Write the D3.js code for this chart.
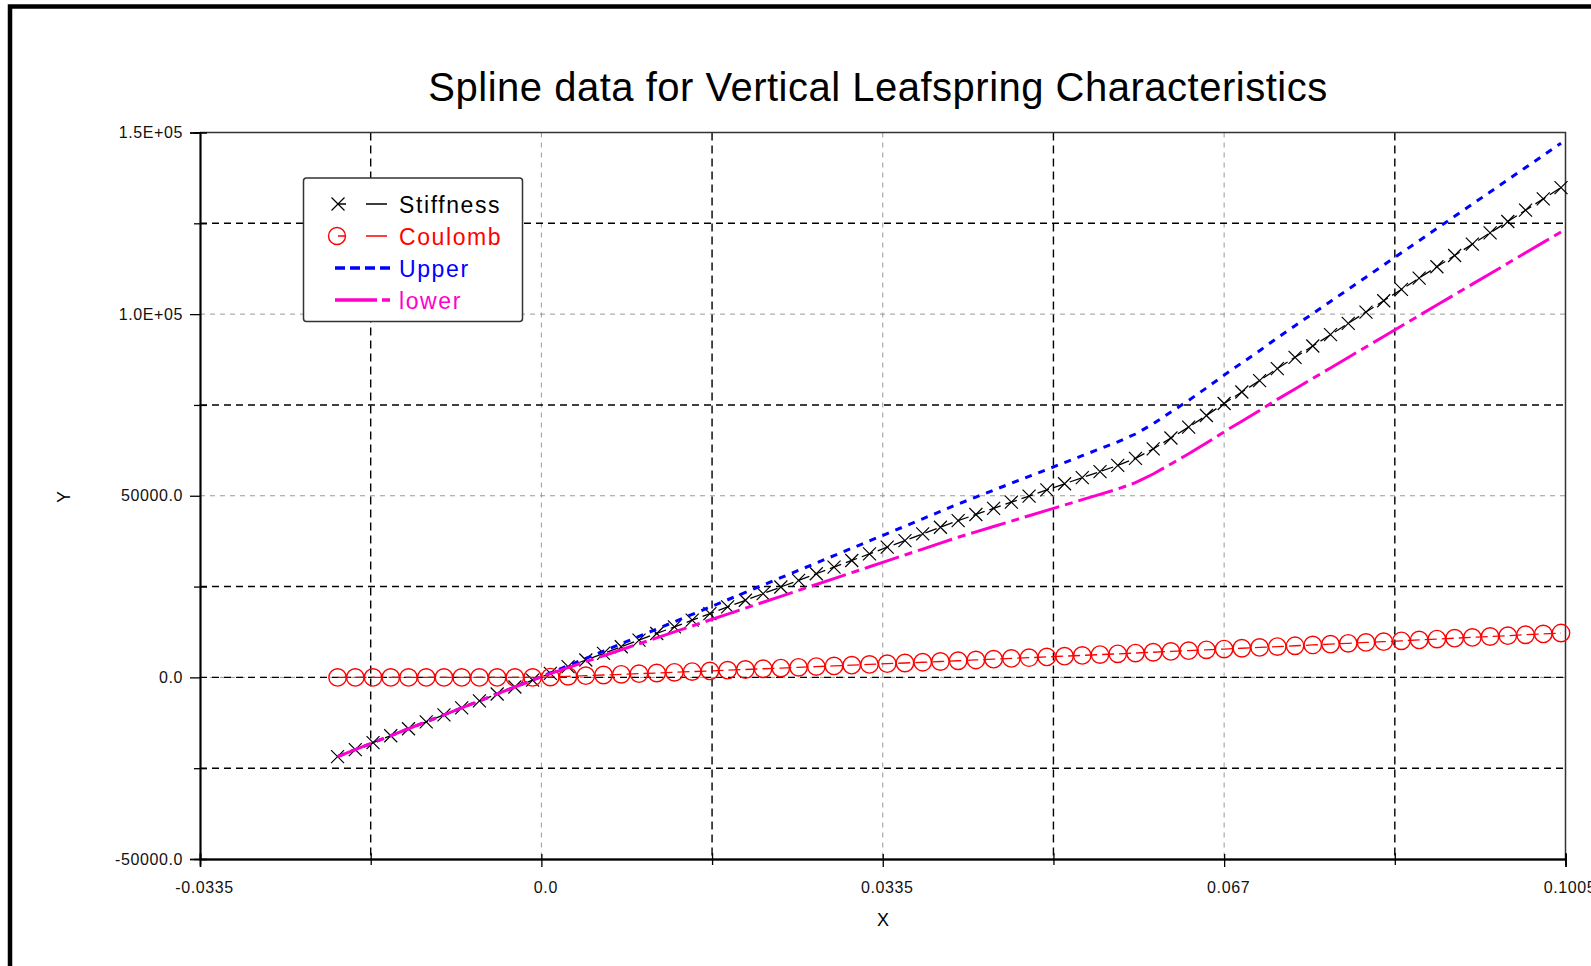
<!DOCTYPE html>
<html>
<head>
<meta charset="utf-8">
<script src="https://cdn.jsdelivr.net/npm/d3@7"></script>
<style>
  body { margin: 0; background: #fff; }
  svg { display: block; font-family: "Liberation Sans", Arial, sans-serif; }
</style>
</head>
<body>
<script>
// x positions of the spline points
const xValues = [-0.02, -0.01826, -0.01652, -0.01478, -0.01304, -0.0113, -0.00956, -0.00782, -0.00608, -0.00434,
  -0.0026, -0.00086, 0.00088, 0.00262, 0.00436, 0.0061, 0.00784, 0.00958, 0.01132, 0.01306,
  0.0148, 0.01654, 0.01828, 0.02002, 0.02176, 0.0235, 0.02524, 0.02698, 0.02872, 0.03046,
  0.0322, 0.03394, 0.03568, 0.03742, 0.03916, 0.0409, 0.04264, 0.04438, 0.04612, 0.04786,
  0.0496, 0.05134, 0.05308, 0.05482, 0.05656, 0.0583, 0.06004, 0.06178, 0.06352, 0.06526,
  0.067, 0.06874, 0.07048, 0.07222, 0.07396, 0.0757, 0.07744, 0.07918, 0.08092, 0.08266,
  0.0844, 0.08614, 0.08788, 0.08962, 0.09136, 0.0931, 0.09484, 0.09658, 0.09832, 0.10006];

const stiffness = [-21800, -19890, -17970, -16060, -14140, -12230, -10320, -8400, -6490, -4570,
  -2660, -750, 1120, 2950, 4780, 6600, 8430, 10260, 12090, 13910,
  15740, 17570, 19390, 21220, 23050, 24880, 26700, 28530, 30360, 32180,
  34010, 35840, 37660, 39490, 41320, 43150, 44850, 46540, 48230, 49910,
  51600, 53290, 54980, 56660, 58350, 60300, 62900, 65900, 68900, 72100,
  75400, 78550, 81700, 85000, 88110, 91230, 94340, 97460, 100570, 103690,
  106800, 109920, 113030, 116150, 119260, 122380, 125490, 128610, 131720, 134840];

const coulomb = [0, 0, 0, 0, 0, 0, 0, 0, 0, 0,
  0, 0, 90, 280, 460, 650, 830, 1020, 1210, 1400,
  1590, 1780, 1980, 2170, 2370, 2560, 2760, 2960, 3160, 3360,
  3560, 3760, 3960, 4170, 4370, 4580, 4790, 5000, 5210, 5410,
  5630, 5840, 6050, 6270, 6480, 6700, 6920, 7140, 7360, 7580,
  7800, 8020, 8240, 8470, 8700, 8920, 9150, 9380, 9610, 9840,
  10070, 10310, 10540, 10780, 11010, 11250, 11490, 11730, 11970, 12210];

const upper = [-21800, -19890, -17970, -16060, -14140, -12230, -10320, -8400, -6490, -4570,
  -2660, -750, 1210, 3230, 5240, 7250, 9260, 11280, 13300, 15310,
  17330, 19350, 21370, 23390, 25420, 27440, 29460, 31490, 33520, 35540,
  37570, 39600, 41620, 43660, 45690, 47730, 49640, 51540, 53440, 55320,
  57230, 59130, 61030, 62930, 64830, 67000, 69820, 73040, 76260, 79680,
  83200, 86570, 89940, 93470, 96810, 100150, 103490, 106840, 110180, 113530,
  116870, 120230, 123570, 126930, 130270, 133630, 136980, 140340, 143690, 147050];

const lower = [-21800, -19890, -17970, -16060, -14140, -12230, -10320, -8400, -6490, -4570,
  -2660, -750, 1030, 2670, 4320, 5950, 7600, 9240, 10880, 12510,
  14150, 15790, 17410, 19050, 20680, 22320, 23940, 25570, 27200, 28820,
  30450, 32080, 33700, 35320, 36950, 38570, 40060, 41540, 43020, 44500,
  45970, 47450, 48930, 50390, 51870, 53600, 55980, 58760, 61540, 64520,
  67600, 70530, 73460, 76530, 79410, 82310, 85190, 88080, 90960, 93850,
  96730, 99610, 102490, 105370, 108250, 111130, 114000, 116880, 119750, 122630];

const xMajorTicks = [-0.0335, 0.0, 0.0335, 0.067, 0.1005];
const xTickLabels = ["-0.0335", "0.0", "0.0335", "0.067", "0.1005"];
const xMinorTicks = [-0.01675, 0.01675, 0.05025, 0.08375];
const yMajorTicks = [-50000, 0, 50000, 100000, 150000];
const yTickLabels = ["-50000.0", "0.0", "50000.0", "1.0E+05", "1.5E+05"];
const yMinorTicks = [-25000, 25000, 75000, 125000];

const seriesNames = ["Stiffness", "Coulomb", "Upper", "lower"];

const width = 1591, height = 966;
const plotLeft = 200, plotRight = 1565.5, plotTop = 132.5, plotBottom = 859;

const svg = d3.select("body")
    .append("svg")
    .attr("width", width)
    .attr("height", height);

svg.append("rect")
    .attr("width", width).attr("height", height)
    .attr("fill", "white");

// outer frame (runs off the right and bottom of the window)
svg.append("rect")
    .attr("x", 10).attr("y", 6.5)
    .attr("width", 1700).attr("height", 1100)
    .attr("fill", "none")
    .attr("stroke", "black")
    .attr("stroke-width", 4.5);

const x = d3.scaleLinear().domain([-0.0335, 0.1005]).range([plotLeft, plotRight]);
const y = d3.scaleLinear().domain([-50000, 150000]).range([plotBottom, plotTop]);

svg.append("text")
    .attr("x", 878).attr("y", 101)
    .attr("text-anchor", "middle")
    .attr("font-size", 40)
    .attr("letter-spacing", 0.5)
    .text("Spline data for Vertical Leafspring Characteristics");

// grid
const grid = svg.append("g");
grid.selectAll("line.gy")
    .data(yMajorTicks.filter(d => d > -50000 && d < 150000))
    .join("line")
    .attr("x1", plotLeft).attr("x2", plotRight)
    .attr("y1", d => y(d)).attr("y2", d => y(d))
    .attr("stroke", "#999").attr("stroke-dasharray", "5,5");
grid.selectAll("line.gx")
    .data(xMajorTicks.filter(d => d > -0.0335 && d < 0.1005))
    .join("line")
    .attr("y1", plotTop).attr("y2", plotBottom)
    .attr("x1", d => x(d)).attr("x2", d => x(d))
    .attr("stroke", "#999").attr("stroke-dasharray", "5,5");
grid.selectAll("line.my")
    .data(yMinorTicks.concat([0]))
    .join("line")
    .attr("x1", plotLeft).attr("x2", plotRight)
    .attr("y1", d => y(d)).attr("y2", d => y(d))
    .attr("stroke", "black").attr("stroke-width", 1.4).attr("stroke-dasharray", "7,5");
grid.selectAll("line.mx")
    .data(xMinorTicks)
    .join("line")
    .attr("y1", plotTop).attr("y2", plotBottom)
    .attr("x1", d => x(d)).attr("x2", d => x(d))
    .attr("stroke", "black").attr("stroke-width", 1.4).attr("stroke-dasharray", "8,5");

// frame top/right
svg.append("path")
    .attr("d", `M${plotLeft},${plotTop}H${plotRight}V${plotBottom}`)
    .attr("fill", "none").attr("stroke", "#333").attr("stroke-width", 1.5);

// axes
const yAxis = svg.append("g")
    .attr("transform", `translate(${plotLeft},0)`)
    .call(d3.axisLeft(y).tickValues(yMajorTicks).tickSize(10)
        .tickFormat((d, i) => yTickLabels[i]));
svg.append("g").attr("transform", `translate(${plotLeft},0)`)
    .call(d3.axisLeft(y).tickValues(yMinorTicks).tickSize(6).tickFormat(""));
svg.append("g").attr("transform", `translate(${plotLeft},0)`)
    .call(d3.axisRight(y).tickValues(yMinorTicks).tickSize(7).tickFormat(""));

const xAxis = svg.append("g")
    .attr("transform", `translate(0,${plotBottom})`)
    .call(d3.axisBottom(x).tickValues(xMajorTicks).tickSize(8)
        .tickFormat((d, i) => xTickLabels[i]));
svg.append("g").attr("transform", `translate(0,${plotBottom})`)
    .call(d3.axisTop(x).tickValues(xMajorTicks).tickSize(5).tickFormat(""));
svg.append("g").attr("transform", `translate(0,${plotBottom})`)
    .call(d3.axisBottom(x).tickValues(xMinorTicks).tickSize(6).tickFormat(""));
svg.append("g").attr("transform", `translate(0,${plotBottom})`)
    .call(d3.axisTop(x).tickValues(xMinorTicks).tickSize(6).tickFormat(""));

svg.selectAll(".domain").attr("stroke", "black").attr("stroke-width", 1.5);
svg.selectAll(".tick line").attr("stroke", "black").attr("stroke-width", 1.3);
svg.selectAll(".tick text")
    .attr("font-family", "Liberation Sans, Arial, sans-serif")
    .attr("font-size", 16)
    .attr("letter-spacing", 0.6)
    .attr("fill", "#111");
yAxis.selectAll(".tick text").attr("x", -17);
xAxis.selectAll(".tick text").attr("y", 23).attr("dx", 4);

svg.append("text")
    .attr("x", 883).attr("y", 926)
    .attr("text-anchor", "middle")
    .attr("font-size", 18)
    .text("X");
svg.append("text")
    .attr("transform", "translate(70,497) rotate(-90)")
    .attr("text-anchor", "middle")
    .attr("font-size", 18)
    .text("Y");

// series
const pts = vals => xValues.map((xv, i) => [xv, vals[i]]);
const line = d3.line().x(d => x(d[0])).y(d => y(d[1]));
const crossPath = "M-6.5,-6.5L6.5,6.5M-6.5,6.5L6.5,-6.5";

const plot = svg.append("g");

plot.append("path")
    .attr("d", line(pts(stiffness)))
    .attr("fill", "none").attr("stroke", "black").attr("stroke-width", 1.3)
    .attr("stroke-dasharray", "12,5");
plot.selectAll("path.xm")
    .data(pts(stiffness))
    .join("path")
    .attr("transform", d => `translate(${x(d[0])},${y(d[1])})`)
    .attr("d", crossPath)
    .attr("stroke", "black").attr("stroke-width", 1.2);

plot.append("path")
    .attr("d", line(pts(coulomb)))
    .attr("fill", "none").attr("stroke", "red").attr("stroke-width", 1.3)
    .attr("stroke-dasharray", "12,5");
plot.selectAll("circle")
    .data(pts(coulomb))
    .join("circle")
    .attr("cx", d => x(d[0])).attr("cy", d => y(d[1]))
    .attr("r", 8.7)
    .attr("fill", "none").attr("stroke", "red").attr("stroke-width", 1.4);

plot.append("path")
    .attr("d", line(pts(upper)))
    .attr("fill", "none").attr("stroke", "#0000ff").attr("stroke-width", 3)
    .attr("stroke-dasharray", "7,7");

plot.append("path")
    .attr("d", line(pts(lower)))
    .attr("fill", "none").attr("stroke", "#ff00cc").attr("stroke-width", 3)
    .attr("stroke-dasharray", "36,6,8,6");

// legend
const lg = svg.append("g");
lg.append("rect")
    .attr("x", 303.5).attr("y", 178)
    .attr("width", 219).attr("height", 143.5)
    .attr("rx", 3)
    .attr("fill", "white").attr("stroke", "#333").attr("stroke-width", 1.5);

const rowY = [204, 236, 268, 300];
const legendColors = ["black", "red", "#0000ff", "#ff00cc"];

[0, 1].forEach(i => {
    lg.append("path")
        .attr("d", `M338,${rowY[i]}H346M366,${rowY[i]}H387`)
        .attr("stroke", legendColors[i]).attr("stroke-width", 1.4);
});
lg.append("path")
    .attr("transform", `translate(338,${rowY[0]})`)
    .attr("d", crossPath)
    .attr("stroke", "black").attr("stroke-width", 1.2);
lg.append("circle")
    .attr("cx", 337).attr("cy", rowY[1]).attr("r", 8.5)
    .attr("fill", "none").attr("stroke", "red").attr("stroke-width", 1.4);
lg.append("line")
    .attr("x1", 335).attr("x2", 390).attr("y1", rowY[2]).attr("y2", rowY[2])
    .attr("stroke", "#0000ff").attr("stroke-width", 3.5)
    .attr("stroke-dasharray", "10,5");
lg.append("line")
    .attr("x1", 335).attr("x2", 390).attr("y1", rowY[3]).attr("y2", rowY[3])
    .attr("stroke", "#ff00cc").attr("stroke-width", 3.5)
    .attr("stroke-dasharray", "42,5,8,20");

lg.selectAll("text")
    .data(seriesNames)
    .join("text")
    .attr("x", 399)
    .attr("y", (d, i) => rowY[i] + 9)
    .attr("font-size", 23)
    .attr("letter-spacing", 1.6)
    .attr("fill", (d, i) => legendColors[i])
    .text(d => d);
</script>
</body>
</html>
